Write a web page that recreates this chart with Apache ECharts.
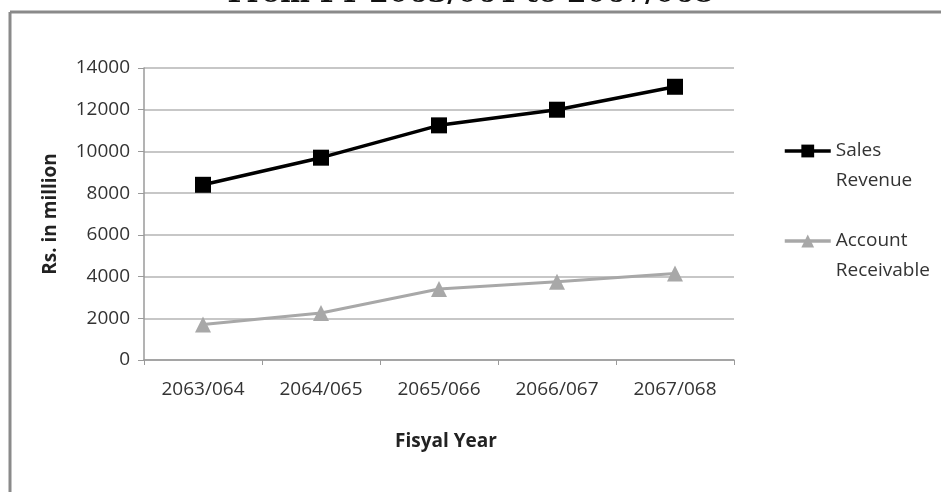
<!DOCTYPE html>
<html>
<head>
<meta charset="utf-8">
<style>
  html, body { margin: 0; padding: 0; background: #fff; }
  #chart { width: 941px; height: 492px; }
</style>
<script src="https://cdn.jsdelivr.net/npm/echarts@6/dist/echarts.min.js"></script>
</head>
<body>
<div id="chart"></div>
<script>
// Fiscal years on the category axis
const fiscalYears = ['2063/064', '2064/065', '2065/066', '2066/067', '2067/068'];
// Rs. in million
const salesRevenue = [8400, 9700, 11250, 12000, 13100];
const accountReceivable = [1700, 2250, 3400, 3750, 4150];
// Value axis range
const yMin = 0, yMax = 14000, yStep = 2000;

const chart = echarts.init(document.getElementById('chart'), null, { renderer: 'canvas' });

const labelFont = '"Open Sans", "Noto Sans", sans-serif';

// Legend labels break over two lines; a leading blank line keeps the
// first word level with the legend icon.
const legendLabels = {
  'Sales Revenue': '\nSales\nRevenue',
  'Account Receivable': '\nAccount\nReceivable'
};

chart.setOption({
  backgroundColor: '#ffffff',
  animation: false,
  title: {
    text: 'From FY 2063/064 to 2067/068',
    left: 'center',
    top: -19,
    padding: 0,
    textStyle: {
      fontFamily: '"DejaVu Serif", serif',
      fontWeight: 'bold',
      fontSize: 28,
      color: '#111'
    }
  },
  graphic: [
    // panel frame (top and left edges)
    { type: 'line', shape: { x1: 10, y1: 12, x2: 941, y2: 12 }, style: { stroke: '#8a8a8a', lineWidth: 3 } },
    { type: 'line', shape: { x1: 10, y1: 12, x2: 10, y2: 492 }, style: { stroke: '#8a8a8a', lineWidth: 3 } }
  ],
  grid: { left: 144, right: 207, top: 68, bottom: 132, containLabel: false },
  legend: {
    orient: 'vertical',
    left: 783,
    top: 106,
    padding: 0,
    itemWidth: 46,
    itemHeight: 16,
    itemGap: 0,
    lineStyle: { width: 3.5 },
    formatter: function (name) { return legendLabels[name]; },
    textStyle: {
      fontFamily: labelFont,
      fontSize: 19,
      color: '#333',
      lineHeight: 30
    },
    data: ['Sales Revenue', 'Account Receivable']
  },
  xAxis: {
    type: 'category',
    data: fiscalYears,
    boundaryGap: true,
    name: 'Fisyal Year',
    nameLocation: 'middle',
    nameGap: 72,
    nameTextStyle: { fontFamily: labelFont, fontWeight: 'bold', fontSize: 19, color: '#222', padding: [0, 0, 0, 14] },
    axisLine: { lineStyle: { color: '#9a9a9a', width: 1.5 } },
    axisTick: { show: true, alignWithLabel: false, length: 5, lineStyle: { color: '#9a9a9a' } },
    axisLabel: { fontFamily: labelFont, fontSize: 19, color: '#333', margin: 20 }
  },
  yAxis: {
    type: 'value',
    min: yMin,
    max: yMax,
    interval: yStep,
    name: 'Rs. in million',
    nameLocation: 'middle',
    nameGap: 84,
    nameRotate: 90,
    nameTextStyle: { fontFamily: labelFont, fontWeight: 'bold', fontSize: 19, color: '#222' },
    axisLine: { show: true, lineStyle: { color: '#9a9a9a', width: 1.5 } },
    axisTick: { show: true, length: 6, lineStyle: { color: '#9a9a9a' } },
    axisLabel: {
      fontFamily: labelFont, fontSize: 19, color: '#333', margin: 14,
      formatter: function (v) { return String(v); }
    },
    splitLine: { lineStyle: { color: '#b4b4b4', width: 1.5 } }
  },
  series: [
    {
      name: 'Sales Revenue',
      type: 'line',
      data: salesRevenue,
      symbol: 'rect',
      symbolSize: 16,
      itemStyle: { color: '#000' },
      lineStyle: { color: '#000', width: 3.5 }
    },
    {
      name: 'Account Receivable',
      type: 'line',
      data: accountReceivable,
      symbol: 'triangle',
      symbolSize: 16,
      itemStyle: { color: '#a8a8a8' },
      lineStyle: { color: '#a8a8a8', width: 3 }
    }
  ]
});
</script>
</body>
</html>
